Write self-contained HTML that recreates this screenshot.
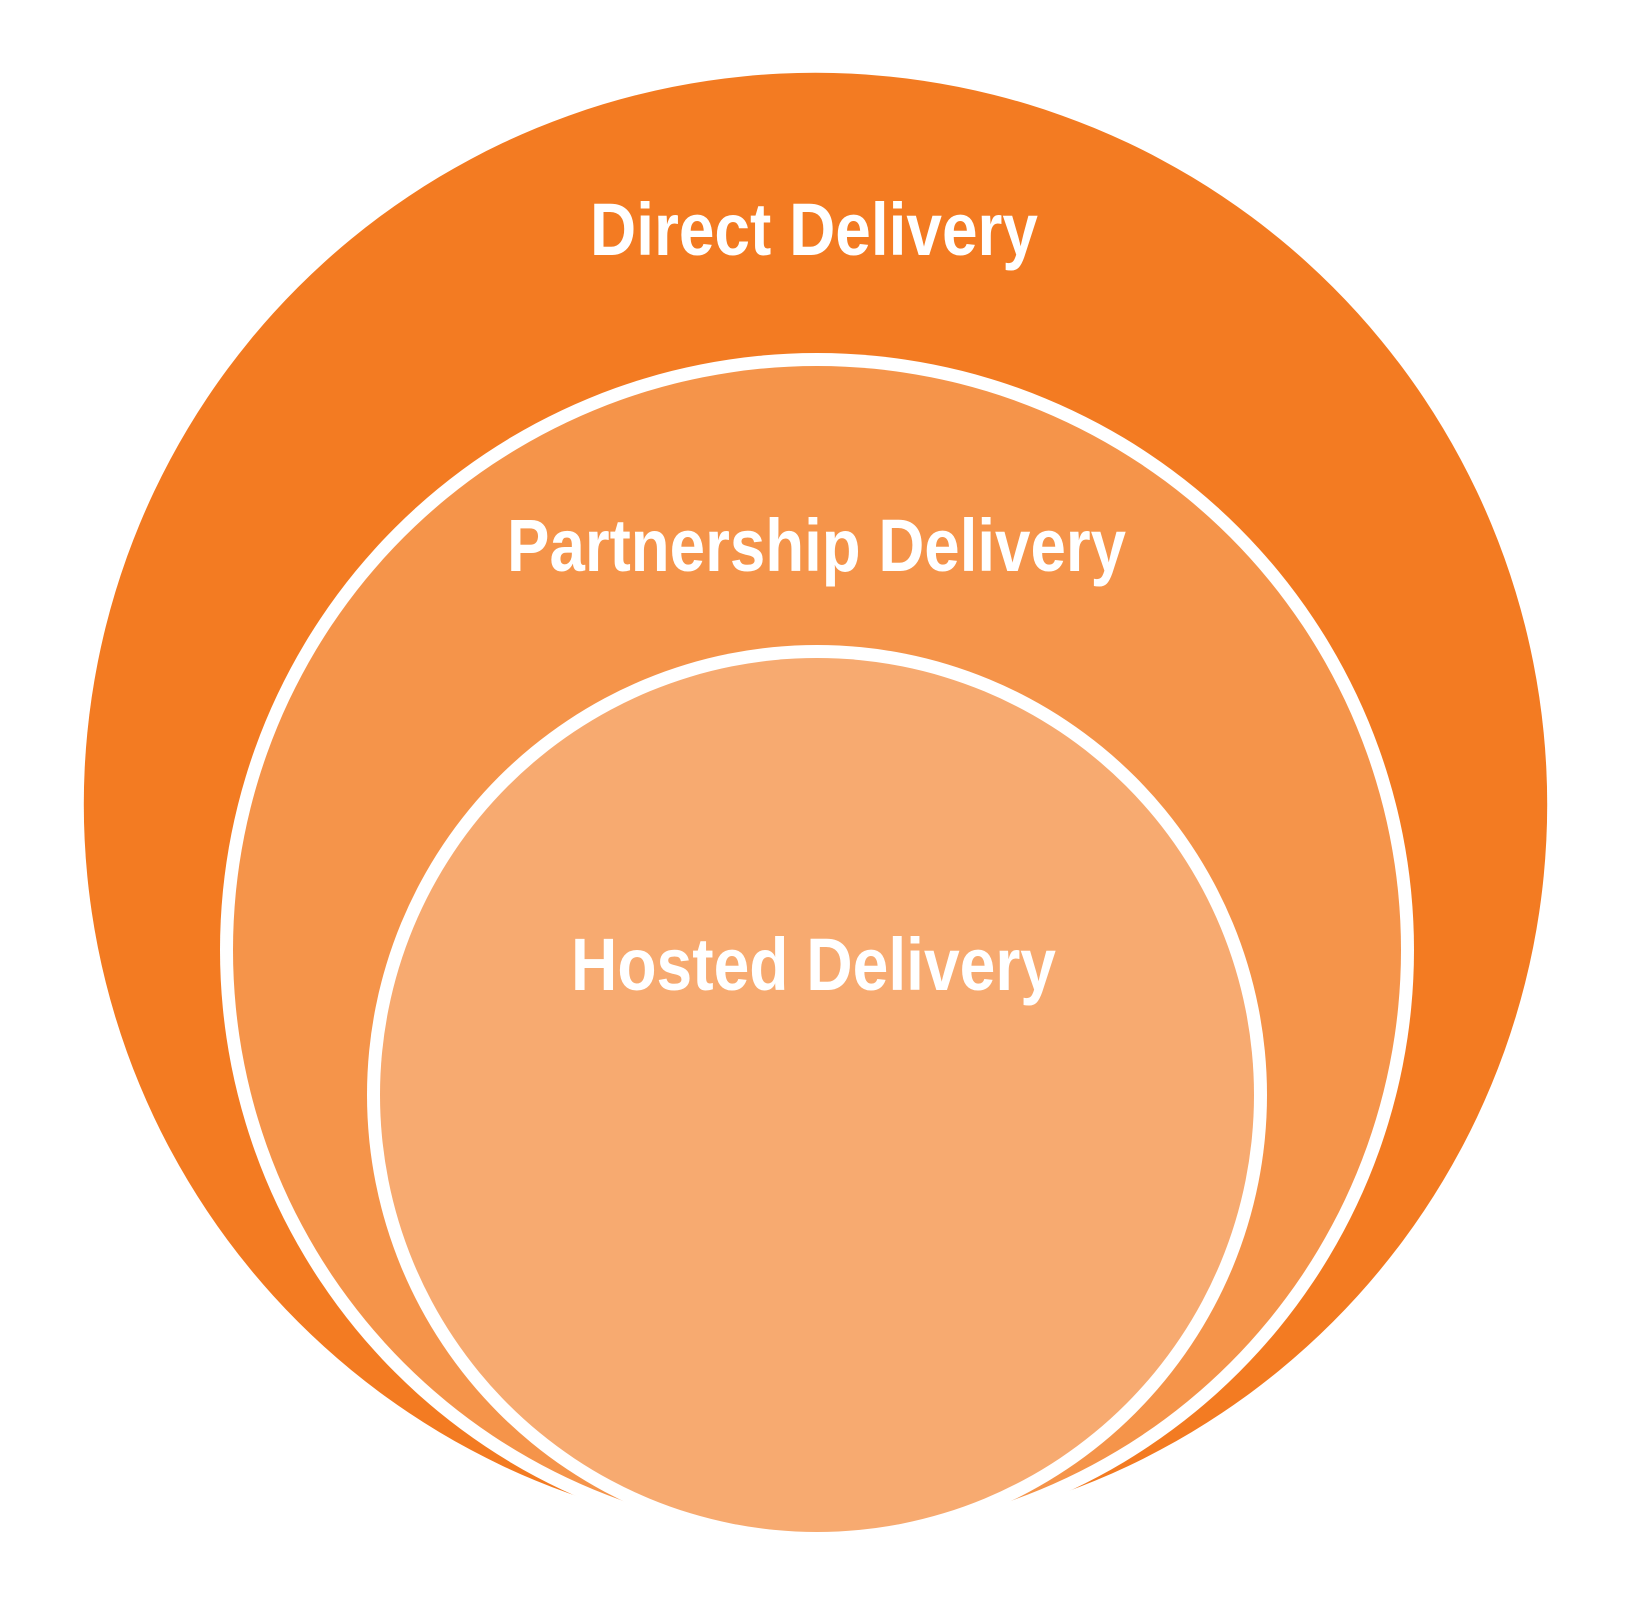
<!DOCTYPE html><html><head><style>body{margin:0;background:#fff}</style></head><body>
<svg width="1632" height="1600" xmlns="http://www.w3.org/2000/svg">
<rect width="1632" height="1600" fill="#fff"/>
<circle cx="815.5" cy="804.5" r="731.7" fill="#F37B22"/>
<circle cx="817" cy="950" r="597" fill="#fff"/>
<circle cx="817" cy="950" r="584" fill="#F5944A"/>
<circle cx="817" cy="1095" r="450" fill="#fff"/>
<circle cx="817" cy="1095" r="437" fill="#F7AA70"/>
<g font-family="Liberation Sans, sans-serif" font-weight="bold" fill="#fff" font-size="74">
<text x="590" y="255" textLength="448" lengthAdjust="spacingAndGlyphs">Direct Delivery</text>
<text x="507" y="571" textLength="619" lengthAdjust="spacingAndGlyphs">Partnership Delivery</text>
<text x="571" y="990" textLength="485" lengthAdjust="spacingAndGlyphs">Hosted Delivery</text>
</g>
</svg>
</body></html>
